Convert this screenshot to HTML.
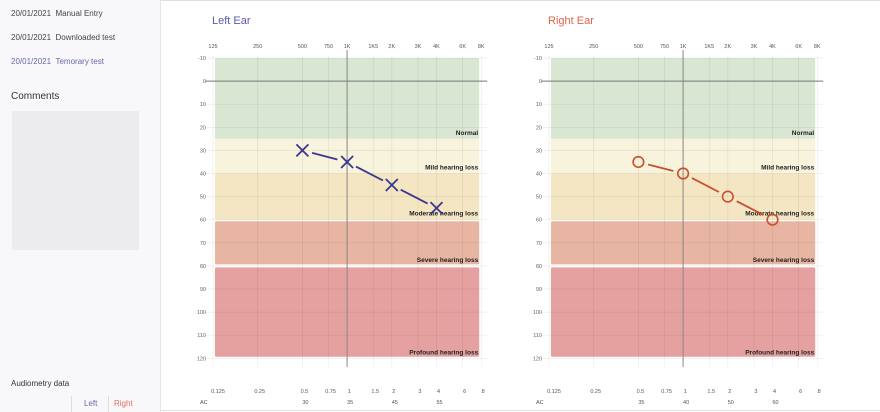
<!DOCTYPE html>
<html><head><meta charset="utf-8"><style>
body{margin:0;width:880px;height:412px;overflow:hidden;background:#fff;font-family:"Liberation Sans",sans-serif;}
#side{position:absolute;left:0;top:0;width:160px;height:412px;background:#f8f7fa;border-right:1px solid #e6e4ea;}
.row{position:absolute;left:11px;font-size:8px;color:#444;white-space:nowrap}
svg{position:absolute;left:0;top:0}
</style></head><body>
<div id="side">
<div class="row" style="top:9px">20/01/2021&nbsp;&nbsp;Manual Entry</div>
<div class="row" style="top:33px">20/01/2021&nbsp;&nbsp;Downloaded test</div>
<div class="row" style="top:57px;color:#6a6aaa">20/01/2021&nbsp;&nbsp;Temorary test</div>
<div class="row" style="top:91px;font-size:10px;color:#333">Comments</div>
<div style="position:absolute;left:12px;top:111px;width:127px;height:139px;background:#ecebee"></div>
<div class="row" style="top:379px;color:#333">Audiometry data</div>
<div style="position:absolute;left:71px;top:396px;height:16px;border-left:1px solid #ddd;border-right:1px solid #ddd;width:36px"></div>
<div class="row" style="left:84px;top:399px;color:#6a6aaa">Left</div>
<div class="row" style="left:114px;top:399px;color:#e07060">Right</div>
</div>
<div style="position:absolute;left:161px;top:0;width:719px;height:1px;background:#e0e0e0"></div>
<div style="position:absolute;left:161px;top:410px;width:719px;height:1px;background:#e0e0e0"></div>
<svg id="chart" width="880" height="412"></svg>
<script>
const freqs=[125,250,500,750,1000,1500,2000,3000,4000,6000,8000];
const freqTop=["125","250","500","750","1K","1K5","2K","3K","4K","6K","8K"];
const freqBottom=["0.125","0.25","0.5","0.75","1","1.5","2","3","4","6","8"];
const dbTicks=[-10,0,10,20,30,40,50,60,70,80,90,100,110,120];
const bands=[[-10,25,"#d9e6d2","Normal"],[25,40,"#f8f3dc","Mild hearing loss"],[40,60,"#f4e6c3","Moderate hearing loss"],[60,80,"#e7b5a2","Severe hearing loss"],[80,120,"#e4a1a0","Profound hearing loss"]];
const leftFreqs=[500,1000,2000,4000];
const leftValues=[30,35,45,55];
const rightFreqs=[500,1000,2000,4000];
const rightValues=[35,40,50,60];
const NS="http://www.w3.org/2000/svg";
const svg=document.getElementById('chart');
function mk(t,a,p){const e=document.createElementNS(NS,t);for(const k in a)e.setAttribute(k,a[k]);(p||svg).appendChild(e);return e;}
function draw(off,title,col,mcol,fs,vals,marker,side){
 const g=mk('g',{});
 
 
 const x=f=>213+off+44.7*Math.log2(f/125);
 const y=d=>58+(d+10)*2.31;
 const t=mk('text',{x:212+off,y:24,'font-size':11,fill:col},g);t.textContent=title;
 
 
 bands.forEach((b,i)=>{
  const y0=y(b[0])+(i==3||i==4?1.5:0),y1=y(b[1])-(i==3||i==4?1.5:0);
  const r=mk('rect',{x:x(125)+2,y:y0,width:x(8000)-x(125)-4,height:y1-y0,fill:b[2],rx:1},g);
  
  
  const l=mk('text',{x:x(8000)-3,y:y(b[1])-4,'font-size':6.5,'font-weight':'bold','text-anchor':'end',fill:'#222'},g);l.textContent=b[3];
  
  
 });
 dbTicks.forEach(d=>{
  mk('line',{x1:x(125)-8,x2:x(8000)+6,y1:y(d),y2:y(d),stroke:d==0?'#777':'rgba(0,0,0,0.08)','stroke-width':d==0?1:0.7},g);
  const l=mk('text',{x:x(125)-7,y:y(d)+2,'font-size':5.5,'text-anchor':'end',fill:'#666'},g);l.textContent=d;
  
  
 });
 freqs.forEach((f,i)=>{
  mk('line',{x1:x(f),x2:x(f),y1:f==1000?50:56,y2:367,stroke:f==1000?'#888':'rgba(0,0,0,0.08)','stroke-width':f==1000?1:0.7},g);
  const a=mk('text',{x:x(f),y:48,'font-size':5.5,'text-anchor':'middle',fill:'#555'},g);a.textContent=freqTop[i];
  
  
  const b=mk('text',{x:x(f)+(i==0?5:2),y:393,'font-size':5.5,'text-anchor':'middle',fill:'#555'},g);b.textContent=freqBottom[i];
  
  
 });
 const ac=mk('text',{x:x(125)-13,y:404,'font-size':5.5,fill:'#555'},g);ac.textContent='AC';
 fs.forEach((f,i)=>{
  const v=mk('text',{x:x(f)+3,y:404,'font-size':5.5,'text-anchor':'middle',fill:'#555'},g);v.textContent=vals[i];
  
  
 });
 for(let i=0;i<fs.length-1;i++){
  const x1=x(fs[i]),y1=y(vals[i]),x2=x(fs[i+1]),y2=y(vals[i+1]);
  const dx=x2-x1,dy=y2-y1,L=Math.hypot(dx,dy),ux=dx/L,uy=dy/L,gp=10;
  const s=mk('line',{x1:x1+ux*gp,y1:y1+uy*gp,x2:x2-ux*gp,y2:y2-uy*gp,stroke:mcol,'stroke-width':1.8},g);
  
  
 }
 fs.forEach((f,i)=>{
  const cx=x(f),cy=y(vals[i]);
  let m;
  if(marker=='x'){m=mk('path',{d:`M${cx-6} ${cy-6}L${cx+6} ${cy+6}M${cx+6} ${cy-6}L${cx-6} ${cy+6}`,stroke:mcol,'stroke-width':1.8,fill:'none'},g);}
  else{m=mk('circle',{cx:cx,cy:cy,r:5.3,stroke:mcol,'stroke-width':1.6,fill:'none'},g);}
  
  
 });
}
draw(0,'Left Ear','#5a5aa6','#38388e',leftFreqs,leftValues,'x','left');
draw(336,'Right Ear','#e0654a','#c8502e',rightFreqs,rightValues,'o','right');
</script>
</body></html>
